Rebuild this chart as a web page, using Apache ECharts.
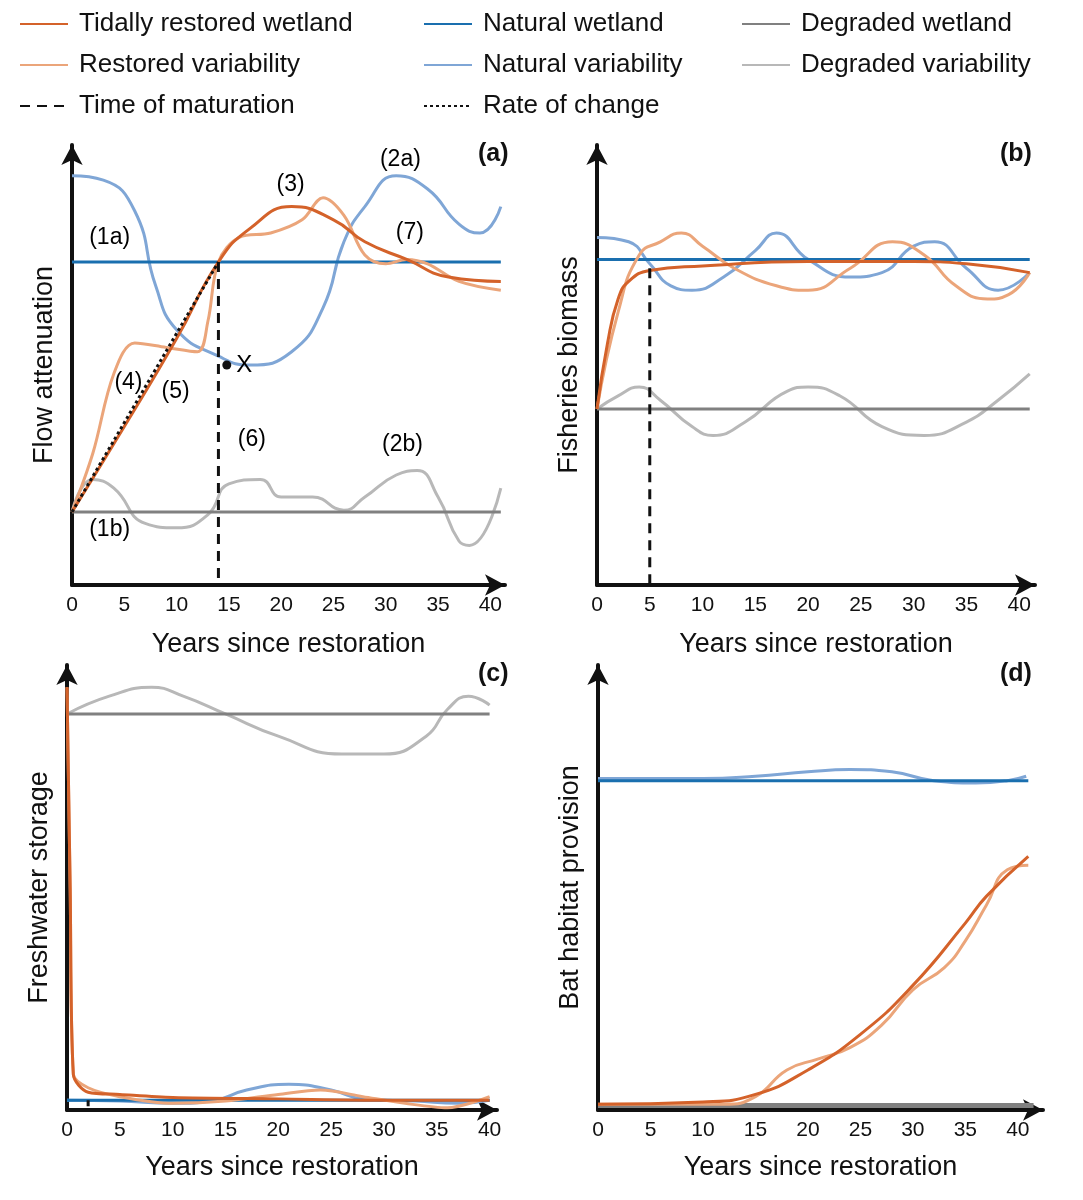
<!DOCTYPE html>
<html>
<head>
<meta charset="utf-8">
<script src="https://cdn.jsdelivr.net/npm/echarts@6/dist/echarts.min.js"></script>
<style>html,body{margin:0;padding:0;background:#fff}#chart{width:1083px;height:1200px}</style>
</head>
<body>
<div id="chart"></div>
<script>
// series names
var nRest = "Tidally restored wetland", nRestVar = "Restored variability", nMat = "Time of maturation";
var nNat = "Natural wetland", nNatVar = "Natural variability", nRate = "Rate of change";
var nDeg = "Degraded wetland", nDegVar = "Degraded variability";

// panel (a) - flow attenuation
var aRest = [[0,16.6],[5,36],[10,56],[14,73.4],[17,81],[21,86],[25,83],[28,78],[32,74],[36,70],[41,69]];
var aRestVar = [[0,16.6],[2,30],[4,48],[6,55],[9,54],[12,53],[13,60],[14,73.4],[16,79],[19,80],[22,83],[24,88],[26,84],[28,75],[30,73],[32,74],[34,73],[37,69],[41,67]];
var aNat = [[0,73.4],[41,73.4]];
var aNatVar = [[0,93],[3,92],[6,85],[8,68],[10,58],[14,52],[17,50],[21,53],[24,63],[26,78],[28,86],[31,93],[34,90],[37,82],[39,80],[41,86]];
var aDeg = [[0,16.6],[41,16.6]];
var aDegVar = [[0,16.6],[2,24],[4,22],[7,14],[10,13],[13,16],[15,23],[18,24],[20,20],[23,20],[26,17],[28,20],[31,25],[33,26],[35,20],[37,10],[38,9],[41,22]];
var aRate = [[0,16.6],[14,73.4]];
var aMat = [[14,73.4],[14,0]];
var aPointX = [[14.8,50]];
var aNotes = [["(1a)",3.6,79],["(1b)",3.6,12.5],["(2a)",31.4,96.6],["(2b)",31.6,32],["(3)",20.9,91],["(4)",5.4,46],["(5)",9.9,44],["(6)",17.2,33],["(7)",32.3,80]];

// panel (b) - fisheries biomass
var bRest = [[0,40],[1,55],[2,65],[3,69],[5,71.5],[10,72.5],[20,73.5],[30,73.5],[35,73],[41,71]];
var bRestVar = [[0,40],[2,62],[4,75],[6,78],[8,80],[10,77],[13,72],[17,68],[20,67],[24,72],[28,78],[31,75],[34,68],[37,65],[39,66],[41,71]];
var bNat = [[0,74],[41,74]];
var bNatVar = [[0,79],[3,78],[5,73],[7,68],[9,67],[12,70],[15,76],[17,80],[20,74],[24,70],[27,71],[30,77],[32,78],[35,72],[38,67],[41,71]];
var bDeg = [[0,40],[41,40]];
var bDegVar = [[0,40],[2,43],[4,45],[6,42],[9,36],[11,34],[14,37],[18,44],[20,45],[23,43],[27,36],[31,34],[35,37],[38,42],[41,48]];
var bMat = [[5,72],[5,0]];

// panel (c) - freshwater storage
var cRest = [[0,95],[0.3,50],[0.6,8],[2,4],[5,3.5],[10,2.8],[20,2.5],[30,2.2],[40,2.2]];
var cRestVar = [[0,95],[0.3,50],[0.6,8],[2,5],[5,3],[10,1.5],[15,2],[20,3.5],[24,4.5],[28,3],[32,1.5],[36,0.5],[40,3]];
var cNat = [[0,2.2],[40,2.2]];
var cNatVar = [[0,2.2],[5,2],[10,1.5],[14,2.2],[17,4.5],[21,5.8],[25,4.5],[28,2.5],[33,2],[37,1.5],[40,2.2]];
var cDeg = [[0,89],[40,89]];
var cDegVar = [[0,89],[4,93],[8,95],[11,93],[15,89],[20,84],[26,80],[30,80],[34,84],[36,90],[38,93],[40,91]];
var cMat = [[2,2.2],[2,0]];

// panel (d) - bat habitat provision
var dRest = [[0,1.3],[10,1.8],[15,3.5],[20,9],[25,17],[30,28],[35,42],[37,48],[41,57]];
var dRestVar = [[0,1.3],[12,1.3],[15,3],[18,9],[21,11.5],[24,14],[27,19],[30,27],[33,32],[35,38],[37,46],[39,54],[41,55]];
var dNat = [[0,74],[41,74]];
var dNatVar = [[0,74.5],[10,74.5],[15,75],[20,76],[24,76.5],[28,76],[32,74],[36,73.5],[39,74],[40.8,75]];
var dDeg = [[0,1],[41.5,1]];

var xTicks = [0,5,10,15,20,25,30,35,40];
var C = {rest:"#d4622a", restVar:"#eba57a", nat:"#1a6faf", natVar:"#7fa6d6", deg:"#808080", degVar:"#b8b8b8"};

var chart = echarts.init(document.getElementById("chart"));

var grids = [
    {left:72, top:145, width:433, height:440},
    {left:597, top:145, width:438, height:440},
    {left:67, top:665, width:430, height:445},
    {left:598, top:665, width:445, height:445}
];
var xMax = [41.4, 41.5, 40.7, 42.4];
var yNames = ["Flow attenuation","Fisheries biomass","Freshwater storage","Bat habitat provision"];

var xAxes = [], yAxes = [];
for (var i = 0; i < 4; i++) {
    xAxes.push({
        type:"value", gridIndex:i, min:0, max:xMax[i], interval:5,
        name:"Years since restoration", nameLocation:"middle", nameGap:i < 2 ? 46 : 44,
        nameTextStyle:{fontSize:27, color:"#111", fontFamily:"Liberation Sans"},
        axisLine:{lineStyle:{color:"#111", width:4}, symbol:["none","arrow"], symbolSize:[16,20]},
        axisTick:{show:false}, splitLine:{show:false},
        axisLabel:{fontSize:21, color:"#111", margin:10, fontFamily:"Liberation Sans",
            formatter:function (v) { return xTicks.indexOf(v) >= 0 ? v : ""; }}
    });
    yAxes.push({
        type:"value", gridIndex:i, min:0, max:100,
        name:yNames[i], nameLocation:"middle", nameGap:14, nameRotate:90,
        nameTextStyle:{fontSize:27, color:"#111", fontFamily:"Liberation Sans"},
        axisLine:{show:true, lineStyle:{color:"#111", width:4}, symbol:["none","arrow"], symbolSize:[16,20]},
        axisTick:{show:false}, axisLabel:{show:false}, splitLine:{show:false}
    });
}

function line(name, idx, data, color, opts) {
    opts = opts || {};
    return {
        name:name, type:"line", xAxisIndex:idx, yAxisIndex:idx, data:data,
        smooth:opts.smooth === undefined ? 0.5 : opts.smooth, symbol:"none", z:opts.z || 2,
        lineStyle:{color:color, width:opts.width || 3, type:opts.type || "solid"},
        itemStyle:{color:color}
    };
}

var series = [
    line(nDegVar, 0, aDegVar, C.degVar), line(nDeg, 0, aDeg, C.deg, {smooth:false}),
    line(nNatVar, 0, aNatVar, C.natVar), line(nNat, 0, aNat, C.nat, {smooth:false}),
    line(nRestVar, 0, aRestVar, C.restVar, {smooth:0.35}), line(nRest, 0, aRest, C.rest, {z:3}),
    line(nRate, 0, aRate, "#111", {smooth:false, type:[3,3], width:3, z:4}),
    line(nMat, 0, aMat, "#111", {smooth:false, type:[10,7], width:3, z:4}),
    {type:"scatter", xAxisIndex:0, yAxisIndex:0, data:aPointX, symbolSize:9, itemStyle:{color:"#111", opacity:1},
        label:{show:true, position:"right", formatter:"X", fontSize:24, color:"#000", fontFamily:"Liberation Sans"}, z:5},
    {type:"scatter", xAxisIndex:0, yAxisIndex:0, symbolSize:1, itemStyle:{opacity:0}, z:5,
        data:aNotes.map(function (n) { return {value:[n[1], n[2]], name:n[0]}; }),
        label:{show:true, position:"inside", formatter:"{b}", fontSize:23, color:"#000", opacity:1, fontFamily:"Liberation Sans"}},

    line(nDegVar, 1, bDegVar, C.degVar), line(nDeg, 1, bDeg, C.deg, {smooth:false}),
    line(nNatVar, 1, bNatVar, C.natVar), line(nNat, 1, bNat, C.nat, {smooth:false}),
    line(nRestVar, 1, bRestVar, C.restVar), line(nRest, 1, bRest, C.rest, {z:3}),
    line(nMat, 1, bMat, "#111", {smooth:false, type:[10,7], width:3, z:4}),

    line(nDegVar, 2, cDegVar, C.degVar), line(nDeg, 2, cDeg, C.deg, {smooth:false}),
    line(nNatVar, 2, cNatVar, C.natVar), line(nNat, 2, cNat, C.nat, {smooth:false}),
    line(nRestVar, 2, cRestVar, C.restVar, {smooth:0.3}), line(nRest, 2, cRest, C.rest, {z:3, smooth:0.3}),
    line(nMat, 2, cMat, "#111", {smooth:false, type:[6,4], width:3, z:4}),

    line(nDeg, 3, dDeg, C.deg, {smooth:false, width:5}),
    line(nNatVar, 3, dNatVar, C.natVar), line(nNat, 3, dNat, C.nat, {smooth:false}),
    line(nRestVar, 3, dRestVar, C.restVar), line(nRest, 3, dRest, C.rest, {z:3})
];

var legendBase = {orient:"vertical", top:6, itemGap:15, itemWidth:48, itemHeight:14,
    itemStyle:{opacity:0},
    textStyle:{fontSize:26, color:"#111", fontFamily:"Liberation Sans", padding:[0,0,0,6]}};
var legends = [
    Object.assign({left:14, data:[nRest, nRestVar, nMat]}, legendBase),
    Object.assign({left:418, data:[nNat, nNatVar, nRate]}, legendBase),
    Object.assign({left:736, data:[nDeg, nDegVar]}, legendBase)
];

var tags = [["(a)",478,142],["(b)",1000,142],["(c)",478,662],["(d)",1000,662]];
var graphic = tags.map(function (t) {
    return {type:"text", left:t[1], top:t[2], style:{text:t[0], fontSize:25, fontWeight:"bold", fill:"#111", fontFamily:"Liberation Sans"}};
});

chart.setOption({
    animation:false,
    backgroundColor:"#fff",
    legend:legends,
    grid:grids,
    xAxis:xAxes,
    yAxis:yAxes,
    series:series,
    graphic:graphic
});
</script>
</body>
</html>
